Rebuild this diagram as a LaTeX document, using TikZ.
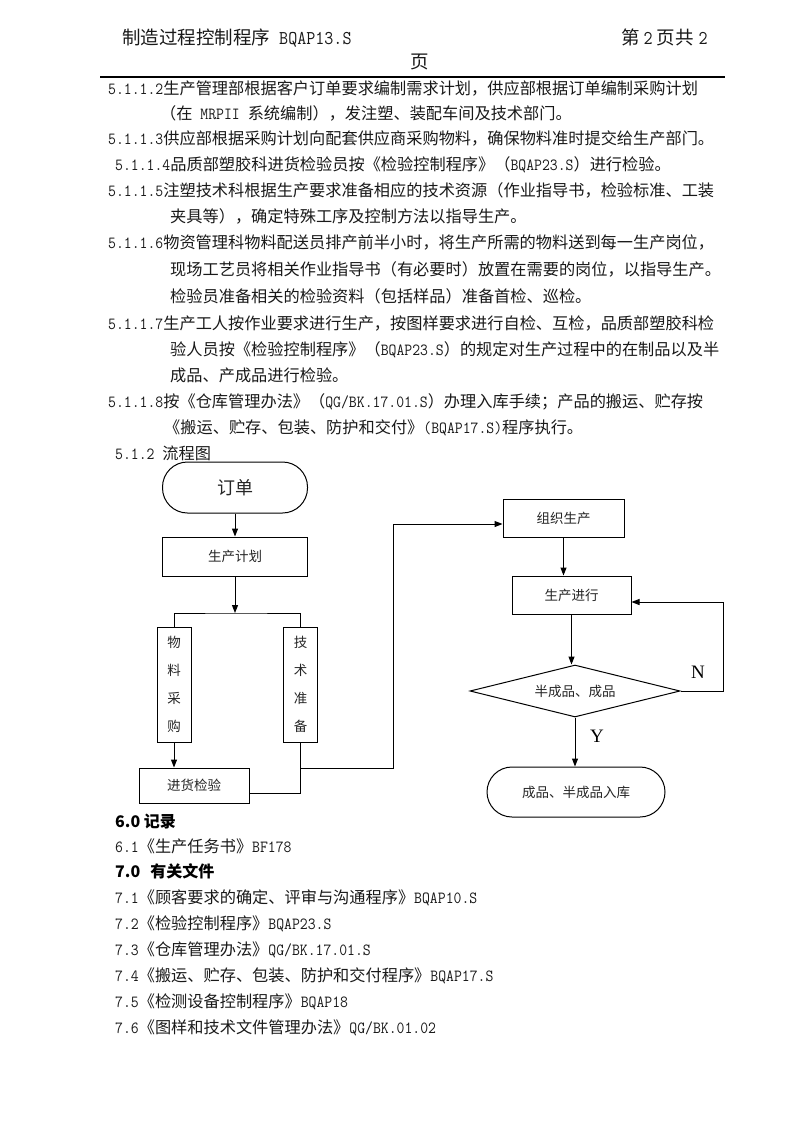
\documentclass[tikz,border=0pt]{standalone}
\usepackage{fontspec}
\usetikzlibrary{arrows.meta,shapes.geometric}
\newfontfamily\cjk{Noto Sans CJK SC}
\newfontfamily\latr{Liberation Serif}
\newfontfamily\latm[FakeStretch=0.9]{Latin Modern Mono}
\newcommand\E[1]{{\latm\fontsize{17}{17}\selectfont #1}}
\newcommand\EH[1]{{\latm\fontsize{19.5}{20}\selectfont #1}}
\newcommand\fs[1]{\fontsize{#1}{#1}\selectfont}
\begin{document}
\begin{tikzpicture}[x=1pt,y=-1pt,
  txt/.style={anchor=base west, inner sep=0pt, font=\cjk\fs{16.2}, text=black!90},
  hd/.style={anchor=base west, inner sep=0pt, font=\cjk\fs{18.5}, text=black!90},
  heading/.style={txt, font=\cjk\bfseries\fs{16}, text=black},
  box/.style={draw, line width=1pt, inner sep=0pt, font=\cjk\fs{13.5}, text=black!85},
  term/.style={box, rounded corners=25pt},
  vbox/.style={box, minimum width=34pt, minimum height=115pt, align=center, font=\cjk\fontsize{13.5}{28}\selectfont},
  conn/.style={line width=1pt},
  arr/.style={line width=1pt, -{Triangle[length=8pt,width=6pt]}},
  yn/.style={inner sep=0pt, font=\latr\fs{19}}
]
\useasboundingbox (0,0) rectangle (800,1132);
\fill[white] (0,0) rectangle (800,1132);

% header
\node[hd] (h1) at (122,45) {制造过程控制程序\EH{ BQAP13.S}};
\node[hd] (h2) at (621,45) {第\hspace{4pt}\EH{2}\hspace{4pt}页共\hspace{5pt}\EH{2}};
\node[hd, anchor=base] (h3) at (420,68) {页};
\draw[line width=1.2pt] (100,77) -- (725,77);

% body text
\node[txt] (l1) at (108,94) {\E{5.1.1.2}生产管理部根据客户订单要求编制需求计划，供应部根据订单编制采购计划};
\node[txt] (l2) at (160,119) {（在\E{ MRPII }系统编制），发注塑、装配车间及技术部门。};
\node[txt] (l3) at (108,144.5) {\E{5.1.1.3}供应部根据采购计划向配套供应商采购物料，确保物料准时提交给生产部门。};
\node[txt] (l4) at (115,170) {\E{5.1.1.4}品质部塑胶科进货检验员按《检验控制程序》（\E{BQAP23.S}）进行检验。};
\node[txt] (l5) at (108,196) {\E{5.1.1.5}注塑技术科根据生产要求准备相应的技术资源（作业指导书，检验标准、工装};
\node[txt] (l6) at (170,222) {夹具等），确定特殊工序及控制方法以指导生产。};
\node[txt] (l7) at (108,248) {\E{5.1.1.6}物资管理科物料配送员排产前半小时，将生产所需的物料送到每一生产岗位，};
\node[txt] (l8) at (170,275) {现场工艺员将相关作业指导书（有必要时）放置在需要的岗位，以指导生产。};
\node[txt] (l9) at (170,302.5) {检验员准备相关的检验资料（包括样品）准备首检、巡检。};
\node[txt] (l10) at (108,329) {\E{5.1.1.7}生产工人按作业要求进行生产，按图样要求进行自检、互检，品质部塑胶科检};
\node[txt] (l11) at (170,355.5) {验人员按《检验控制程序》（\E{BQAP23.S}）的规定对生产过程中的在制品以及半};
\node[txt] (l12) at (170,381) {成品、产成品进行检验。};
\node[txt] (l13) at (108,407.5) {\E{5.1.1.8}按《仓库管理办法》（\E{QG/BK.17.01.S}）办理入库手续；产品的搬运、贮存按};
\node[txt] (l14) at (164,433.5) {《搬运、贮存、包装、防护和交付》\E{(BQAP17.S)}程序执行。};
\node[txt] (l15) at (115,459) {\E{5.1.2 }流程图};

% flowchart
\node[term, minimum width=145pt, minimum height=51pt, font=\cjk\fs{18}] (order) at (235,487.5) {订单};
\node[box, minimum width=145pt, minimum height=39pt] (plan) at (235,556.5) {生产计划};
\coordinate (bar) at (235,613);
\node[vbox] (wl) at (174,684.5) {物\\料\\采\\购};
\node[vbox] (js) at (300.5,684.5) {技\\术\\准\\备};
\node[box, minimum width=110pt, minimum height=35pt] (jh) at (194,785.5) {进货检验};
\coordinate (j1) at (300.5,768);
\coordinate (bend) at (393,768);
\node[box, minimum width=121pt, minimum height=38pt] (zz) at (563.5,518) {组织生产};
\node[box, minimum width=119pt, minimum height=38pt] (sc) at (571.5,595) {生产进行};
\node[box, diamond, aspect=4.04, minimum width=210pt, minimum height=52pt] (dm) at (575,691) {半成品、成品};
\coordinate (loop) at (723,691);
\node[term, minimum width=178pt, minimum height=50pt] (rk) at (576,792) {成品、半成品入库};

\draw[arr] (order) -- (plan);
\draw[arr] (plan) -- (bar);
\draw[conn] (wl.north) |- (bar) -| (js.north);
\draw[arr] (wl.south) -- (wl.south |- jh.north);
\draw[conn] ([yshift=-7.5pt]jh.east) -| (js.south);
\draw[arr] (j1) -- (bend) |- ([yshift=-6pt]zz.west);
\draw[arr] (zz.south) -- (zz.south |- sc.north);
\draw[arr] (sc.south) -- (sc.south |- dm.north);
\draw[arr] (dm.east) -- (loop) |- ([yshift=-7pt]sc.east);
\draw[arr] (dm.south) -- (dm.south |- rk.north);
\node[yn] (nlab) at (698,672) {N};
\node[yn] (ylab) at (597,736) {Y};

% records and documents
\node[heading] (r0) at (115,827) {6.0 记录};
\node[txt] (r1) at (115,852) {\E{6.1}《生产任务书》\E{BF178}};
\node[heading] (d0) at (115,877) {7.0\hspace{10pt}有关文件};
\node[txt] (d1) at (115,903) {\E{7.1}《顾客要求的确定、评审与沟通程序》\E{BQAP10.S}};
\node[txt] (d2) at (115,929.5) {\E{7.2}《检验控制程序》\E{BQAP23.S}};
\node[txt] (d3) at (115,955.5) {\E{7.3}《仓库管理办法》\E{QG/BK.17.01.S}};
\node[txt] (d4) at (115,981) {\E{7.4}《搬运、贮存、包装、防护和交付程序》\E{BQAP17.S}};
\node[txt] (d5) at (115,1007.5) {\E{7.5}《检测设备控制程序》\E{BQAP18}};
\node[txt] (d6) at (115,1033) {\E{7.6}《图样和技术文件管理办法》\E{QG/BK.01.02}};
\end{tikzpicture}
\end{document}
